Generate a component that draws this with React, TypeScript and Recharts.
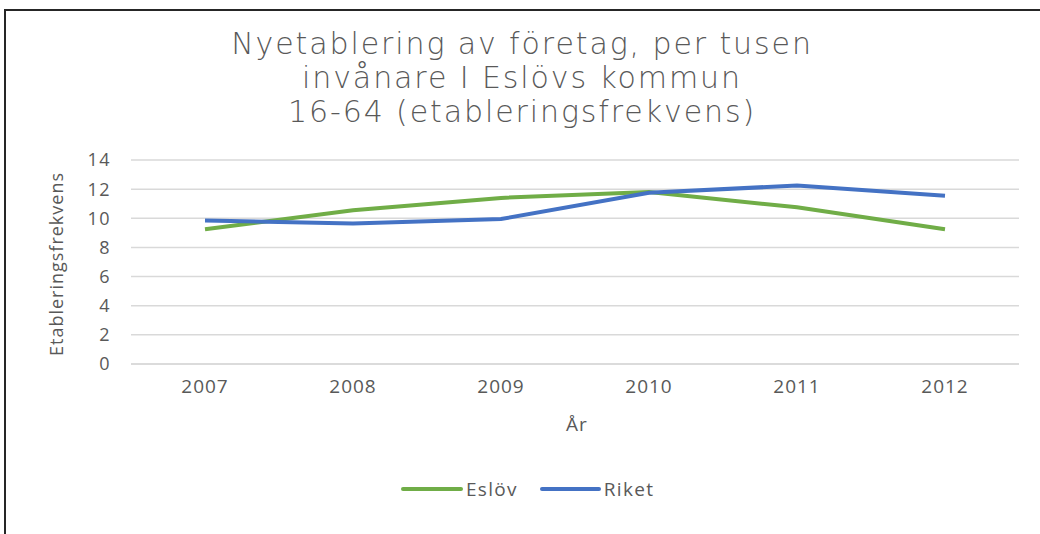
import React from 'react';
import { LineChart, Line, XAxis, YAxis, CartesianGrid } from 'recharts';

const years = ['2007', '2008', '2009', '2010', '2011', '2012'];
const eslov = [9.25, 10.55, 11.4, 11.8, 10.75, 9.25];
const riket = [9.85, 9.65, 9.95, 11.75, 12.25, 11.55];
const yTicks = [0, 2, 4, 6, 8, 10, 12, 14];

const titleLines = [
  'Nyetablering av företag, per tusen',
  'invånare I Eslövs kommun',
  '16-64 (etableringsfrekvens)',
];

const GREEN = '#70ad47';
const BLUE = '#4472c4';
const TEXT = '#595959';
const FONT = '"Open Sans", "Liberation Sans", sans-serif';

const data = years.map((year, i) => ({ year, eslov: eslov[i], riket: riket[i] }));

const App: React.FC = () => {
  return (
    <div
      style={{
        position: 'absolute',
        left: 0,
        top: 0,
        width: 1040,
        height: 534,
        background: '#fff',
        overflow: 'hidden',
        fontFamily: FONT,
      }}
    >
      <div
        style={{
          position: 'absolute',
          left: 4,
          top: 9,
          width: 1050,
          height: 540,
          border: '2px solid #262626',
          boxSizing: 'border-box',
        }}
      />
      <div
        style={{
          position: 'absolute',
          left: 0,
          top: 27,
          width: 1044,
          textAlign: 'center',
          color: TEXT,
          fontFamily: '"DejaVu Sans", sans-serif',
          fontSize: 30,
          fontWeight: 200,
          letterSpacing: 1.9,
          lineHeight: '34px',
        }}
      >
        {titleLines.map((t) => (
          <div key={t}>{t}</div>
        ))}
      </div>
      <div style={{ position: 'absolute', left: 0, top: 0 }}>
        <LineChart
          width={1040}
          height={534}
          data={data}
          margin={{ top: 160, right: 21, bottom: 140, left: 71 }}
        >
          <CartesianGrid vertical={false} stroke="#d9d9d9" strokeWidth={1.5} />
          <XAxis
            dataKey="year"
            padding={{ left: 74, right: 74 }}
            axisLine={{ stroke: '#d9d9d9', strokeWidth: 1.5 }}
            tickLine={false}
            tickMargin={10}
            tick={{ fill: TEXT, fontSize: 19, fontFamily: FONT, letterSpacing: 1 }}
          />
          <YAxis
            width={60}
            domain={[0, 14]}
            ticks={yTicks}
            axisLine={false}
            tickLine={false}
            tickMargin={14}
            tick={{ fill: TEXT, fontSize: 18, fontFamily: FONT, letterSpacing: 1.5 }}
          />
          <Line
            type="linear"
            dataKey="eslov"
            stroke={GREEN}
            strokeWidth={4}
            dot={false}
            isAnimationActive={false}
          />
          <Line
            type="linear"
            dataKey="riket"
            stroke={BLUE}
            strokeWidth={4}
            dot={false}
            isAnimationActive={false}
          />
        </LineChart>
      </div>
      <div
        style={{
          position: 'absolute',
          left: 56,
          top: 264,
          transform: 'translate(-50%, -50%) rotate(-90deg)',
          color: TEXT,
          fontSize: 18,
          letterSpacing: 1,
          whiteSpace: 'nowrap',
        }}
      >
        Etableringsfrekvens
      </div>
      <div
        style={{
          position: 'absolute',
          left: 577,
          top: 424,
          transform: 'translate(-50%, -50%)',
          color: TEXT,
          fontSize: 19,
          letterSpacing: 1,
        }}
      >
        År
      </div>
      <div
        style={{
          position: 'absolute',
          left: 401,
          top: 476,
          display: 'flex',
          alignItems: 'center',
          color: TEXT,
          fontSize: 19,
          letterSpacing: 1.3,
        }}
      >
        <span style={{ display: 'inline-block', width: 62, height: 4, borderRadius: 2, background: GREEN }} />
        <span style={{ marginLeft: 3, marginRight: 22 }}>Eslöv</span>
        <span style={{ display: 'inline-block', width: 61, height: 4, borderRadius: 2, background: BLUE }} />
        <span style={{ marginLeft: 3 }}>Riket</span>
      </div>
    </div>
  );
};

export default App;
